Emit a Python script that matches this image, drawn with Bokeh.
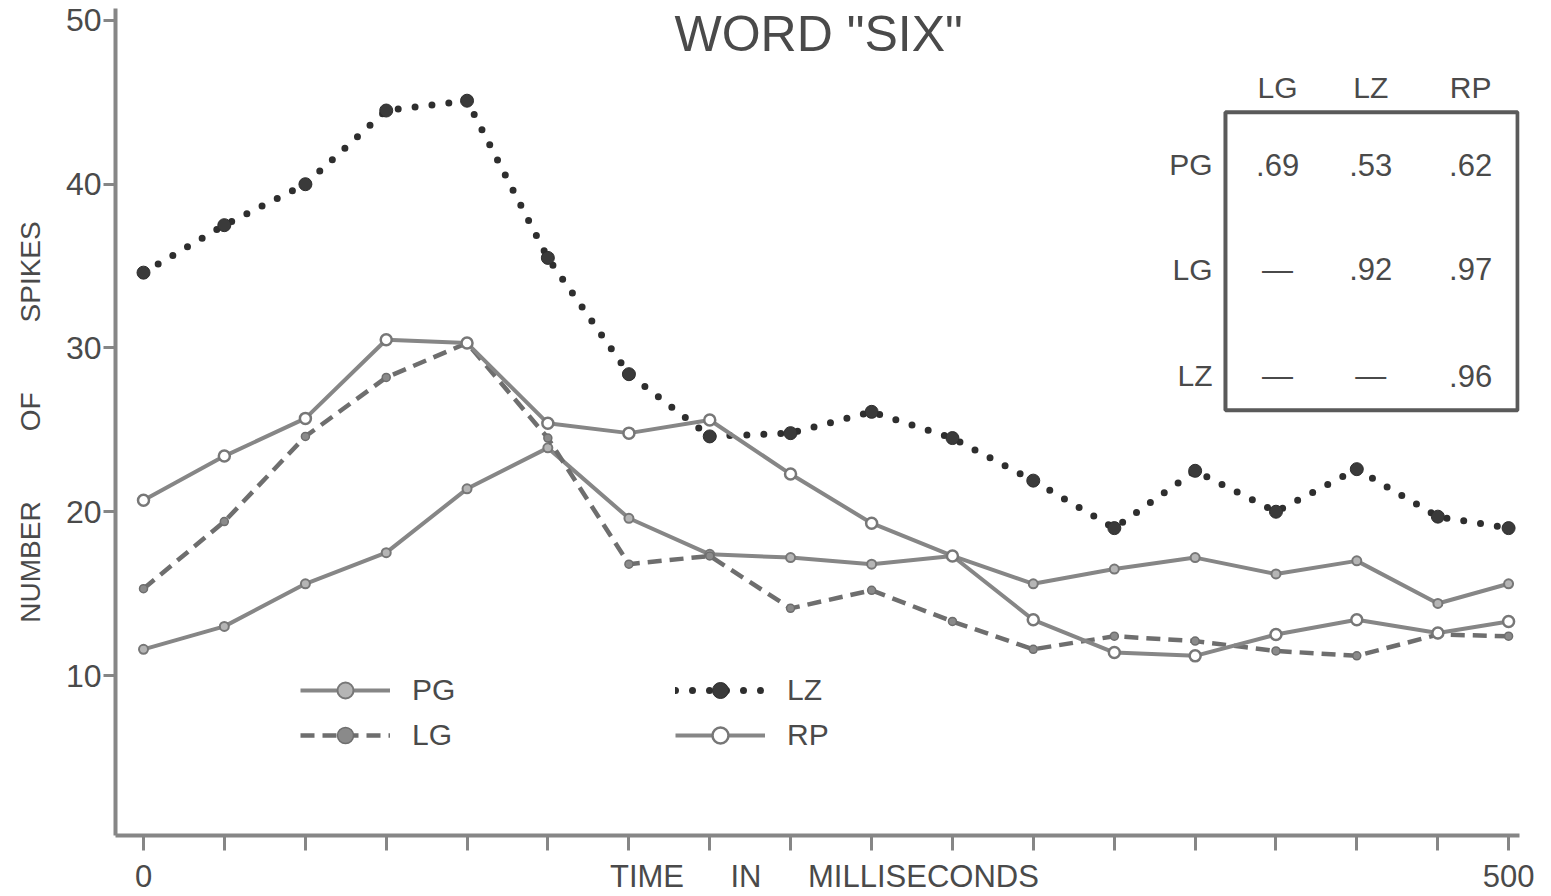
from bokeh.plotting import figure
from bokeh.models import Range1d, FixedTicker, Label, BoxAnnotation, Legend, LegendItem
from bokeh.embed import file_html
from bokeh.resources import INLINE

# ---- data ----
time_ms = [0, 29.6, 59.3, 88.9, 118.5, 148.1, 177.8, 207.4, 237.0, 266.7,
           296.3, 325.9, 355.6, 385.2, 414.8, 444.4, 474.1, 500]
pg = [11.6, 13.0, 15.6, 17.5, 21.4, 23.9, 19.6, 17.4, 17.2, 16.8,
      17.3, 15.6, 16.5, 17.2, 16.2, 17.0, 14.4, 15.6]
lg = [15.3, 19.4, 24.6, 28.2, 30.3, 24.5, 16.8, 17.3, 14.1, 15.2,
      13.3, 11.6, 12.4, 12.1, 11.5, 11.2, 12.5, 12.4]
lz = [34.6, 37.5, 40.0, 44.5, 45.1, 35.5, 28.4, 24.6, 24.8, 26.1,
      24.5, 21.9, 19.0, 22.5, 20.0, 22.6, 19.7, 19.0]
rp = [20.7, 23.4, 25.7, 30.5, 30.3, 25.4, 24.8, 25.6, 22.3, 19.3,
      17.3, 13.4, 11.4, 11.2, 12.5, 13.4, 12.6, 13.3]

y_ticks = [10, 20, 30, 40, 50]
x_label_ticks = [0, 249.4, 500]
x_label_texts = ["0", "TIME\u2003\u2002IN\u2003\u2002MILLISECONDS", "500"]
y_title = "NUMBER\u2003\u2003\u2002OF\u2003\u2003\u2002SPIKES"
title = 'WORD "SIX"'

table_cols = ["LG", "LZ", "RP"]
table_rows = ["PG", "LG", "LZ"]
table_vals = [[".69", ".53", ".62"],
              ["\u2014", ".92", ".97"],
              ["\u2014", "\u2014", ".96"]]

FONT = "Liberation Sans"
TXT = "#4a4a4a"
LINE = "#868686"

p = figure(width=1551, height=896,
           x_range=Range1d(-10.26, 504.0), y_range=Range1d(0.23, 50.73),
           output_backend="svg", toolbar_location=None,
           min_border_left=115, min_border_right=32,
           min_border_top=8, min_border_bottom=61)
p.title.visible = False
p.xgrid.visible = False
p.ygrid.visible = False
p.outline_line_color = None
p.background_fill_color = "white"
p.border_fill_color = "white"

# axes
for ax in (p.xaxis[0], p.yaxis[0]):
    ax.axis_line_width = 4
    ax.axis_line_color = LINE
    ax.major_tick_line_color = LINE
    ax.major_tick_line_width = 3
    ax.major_tick_in = 0
    ax.minor_tick_line_color = None
    ax.major_label_text_font = FONT
    ax.major_label_text_color = TXT

xa = p.xaxis[0]
xa.ticker = FixedTicker(ticks=x_label_ticks, minor_ticks=time_ms)
xa.major_label_overrides = dict(zip(x_label_ticks, x_label_texts))
xa.major_tick_line_color = None
xa.major_tick_out = 15
xa.minor_tick_line_color = LINE
xa.minor_tick_line_width = 3
xa.minor_tick_in = 0
xa.minor_tick_out = 15
xa.major_label_standoff = 8
xa.major_label_text_font_size = "31px"

ya = p.yaxis[0]
ya.ticker = FixedTicker(ticks=y_ticks)
ya.major_tick_out = 12
ya.major_label_standoff = 2
ya.major_label_text_font_size = "32px"
ya.axis_label = y_title
ya.axis_label_text_font = FONT
ya.axis_label_text_font_size = "28px"
ya.axis_label_text_font_style = "normal"
ya.axis_label_text_color = TXT
ya.axis_label_standoff = 17

# series
pg_l = p.line(time_ms, pg, line_width=4, line_color=LINE)
pg_m = p.scatter(time_ms, pg, size=9, fill_color="#b5b5b5", line_color="#777777", line_width=2)

lg_l = p.line(time_ms, lg, line_width=4.5, line_color="#6e6e6e", line_dash="14 8")
lg_m = p.scatter(time_ms, lg, size=8, fill_color="#8a8a8a", line_color="#6e6e6e", line_width=1.5)

lz_l = p.line(time_ms, lz, line_width=7, line_color="#2e2e2e", line_dash="0 17", line_cap="round")
lz_m = p.scatter(time_ms, lz, size=13, fill_color="#3a3a3a", line_color="#2e2e2e")

rp_l = p.line(time_ms, rp, line_width=4, line_color=LINE)
rp_m = p.scatter(time_ms, rp, size=11, fill_color="white", line_color="#777777", line_width=2.5)

# legends
def make_legend(items, loc):
    leg = Legend(items=items, location=loc, orientation="vertical",
                 glyph_width=90, glyph_height=40, label_height=40,
                 spacing=5, padding=0, margin=0, label_standoff=22,
                 border_line_color=None, background_fill_alpha=0,
                 label_text_font=FONT, label_text_font_size="30px",
                 label_text_color=TXT)
    p.add_layout(leg)

make_legend([LegendItem(label="PG", renderers=[pg_l, pg_m]),
             LegendItem(label="LG", renderers=[lg_l, lg_m])], (185, 80))
make_legend([LegendItem(label="LZ", renderers=[lz_l, lz_m]),
             LegendItem(label="RP", renderers=[rp_l, rp_m])], (560, 80))

def lab(x, y, text, size, align="center"):
    p.add_layout(Label(x=x, y=y, text=text, text_font=FONT, text_font_size=size,
                       text_color=TXT, text_align=align, text_baseline="middle"))

# title
lab(247.3, 49.2, title, "50px")

# correlation table
col_x = [415.4, 449.5, 486.1]
row_y = [41.2, 34.8, 28.3]
p.add_layout(BoxAnnotation(left=396.3, right=503.3, bottom=26.2, top=44.4,
                           fill_alpha=0, line_color="#5a5a5a", line_alpha=1.0,
                           line_width=4))
for cx, c in zip(col_x, table_cols):
    lab(cx, 45.9, c, "30px")
for ry, r, vals in zip(row_y, table_rows, table_vals):
    lab(391.6, ry, r, "30px", align="right")
    for cx, v in zip(col_x, vals):
        lab(cx, ry, v, "31px")

open("out.html", "w").write(file_html(p, INLINE))
